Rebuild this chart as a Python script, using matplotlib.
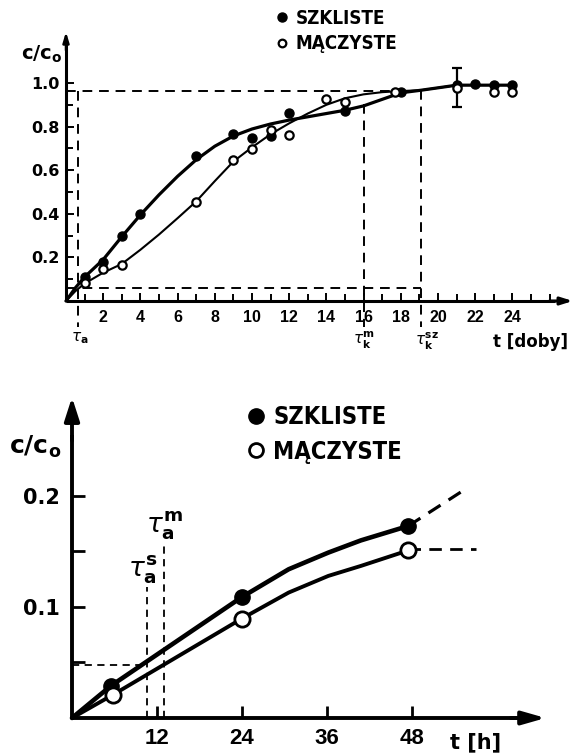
import matplotlib
matplotlib.use("Agg")
import matplotlib.pyplot as plt
from matplotlib import font_manager
from matplotlib.font_manager import FontProperties
from matplotlib.lines import Line2D

# ---------------- data ----------------
# top panel (t in days)
top_szk_t = [1, 2, 3, 4, 7, 9, 10, 11, 12, 15, 18, 21, 22, 23, 24]
top_szk_y = [0.11, 0.18, 0.30, 0.40, 0.665, 0.766, 0.75, 0.757, 0.862, 0.87, 0.959, 0.99, 0.995, 0.99, 0.99]
top_mac_t = [1, 2, 3, 7, 9, 10, 11, 12, 14, 15, 17.7, 21, 23, 24]
top_mac_y = [0.083, 0.147, 0.165, 0.454, 0.647, 0.697, 0.784, 0.76, 0.927, 0.913, 0.959, 0.975, 0.96, 0.96]
top_err_t = [21]
top_err_y = [0.99]
top_err_lo = [0.10]
top_err_hi = [0.08]

top_fit_t = [0, 0.5, 1, 2, 3, 4, 5, 6, 7, 8, 9, 10, 11, 12, 13, 14, 15, 16, 17, 18, 19.1, 21, 22, 23, 24]
top_szk_fit = [0, 0.06, 0.11, 0.19, 0.295, 0.395, 0.487, 0.572, 0.648, 0.71, 0.757, 0.789, 0.812, 0.83,
               0.845, 0.86, 0.875, 0.895, 0.925, 0.955, 0.967, 0.99, 0.99, 0.99, 0.99]
top_mac_fit_t = [0, 0.5, 1, 2, 3, 4, 5, 6, 7, 8, 9, 10, 11, 12, 13, 14, 15, 16, 17, 18, 19.1, 21]
top_mac_fit = [0, 0.045, 0.08, 0.13, 0.17, 0.235, 0.305, 0.38, 0.457, 0.55, 0.64, 0.705, 0.765, 0.815,
               0.86, 0.9, 0.93, 0.948, 0.958, 0.963, 0.967, 0.99]

top_xticks = [2, 4, 6, 8, 10, 12, 14, 16, 18, 20, 22, 24]
top_xminor = list(range(1, 27))
top_yticks = [0.2, 0.4, 0.6, 0.8, 1.0]
top_yticklabels = ["0.2", "0.4", "0.6", "0.8", "1.0"]
top_yminor = [0.1, 0.3, 0.5, 0.7, 0.9]

top_level_hi = 0.963
top_level_lo = 0.06
tau_a_top = 0.65
tau_km = 16.0
tau_ksz = 19.1
tau_km_y = 0.905
tau_ksz_y = 0.967

# bottom panel (t in hours)
bot_szk_t = [5.5, 24, 47.5]
bot_szk_y = [0.029, 0.109, 0.173]
bot_mac_t = [5.8, 24, 47.5]
bot_mac_y = [0.021, 0.0896, 0.151]
bot_szk_fit_t = [0, 5.5, 24, 30.6, 36.2, 40.8, 47.5]
bot_szk_fit_y = [0, 0.029, 0.109, 0.134, 0.149, 0.160, 0.173]
bot_mac_fit_t = [0, 5.8, 24, 30.6, 36.2, 40.8, 47.5]
bot_mac_fit_y = [0, 0.021, 0.0896, 0.113, 0.128, 0.137, 0.151]
bot_szk_ext_t = [47.5, 56.0]
bot_szk_ext_y = [0.173, 0.208]
bot_mac_ext_t = [47.5, 57.0]
bot_mac_ext_y = [0.152, 0.152]

bot_xticks = [12, 24, 36, 48]
bot_yticks = [0.05, 0.1, 0.15, 0.2]
bot_yticklabels = ["", "0.1", "", "0.2"]
bot_level = 0.048
tau_as = 10.6
tau_am = 13.0
tau_as_y = 0.118
tau_am_y = 0.155

legend_labels = ["SZKLISTE", "MĄCZYSTE"]

# ---------------- fonts ----------------
plt.rcParams["mathtext.fontset"] = "dejavusans"
names = {f.name for f in font_manager.fontManager.ttflist}
LIB = "Liberation Sans" if "Liberation Sans" in names else "DejaVu Sans"
cond = None
for f in font_manager.fontManager.ttflist:
    if f.name in ("Liberation Sans Narrow", "DejaVu Sans") and f.weight in (700, "bold") \
            and ("Narrow" in f.name or "ondensed" in f.fname) and f.style == "normal":
        cond = f.fname
        break


def legend_prop(size_cond, size_plain):
    if cond is not None:
        return FontProperties(fname=cond, size=size_cond)
    return FontProperties(family="DejaVu Sans", weight="bold", size=size_plain)


W, H = 571, 753
fig = plt.figure(figsize=(W / 100, H / 100), dpi=100)


def axes_px(x0, xs, xlim, y0, ys, ylim):
    left = x0 + xlim[0] * xs
    right = x0 + xlim[1] * xs
    top = y0 - ylim[1] * ys
    bottom = y0 - ylim[0] * ys
    ax = fig.add_axes([left / W, 1 - bottom / H, (right - left) / W, (bottom - top) / H])
    ax.set_xlim(*xlim)
    ax.set_ylim(*ylim)
    ax.patch.set_visible(False)
    return ax


def setup_axes(ax, lw):
    for s in ("top", "right"):
        ax.spines[s].set_visible(False)
    for s in ("left", "bottom"):
        ax.spines[s].set_position(("data", 0))
        ax.spines[s].set_linewidth(lw)
        ax.spines[s].set_capstyle("butt")


# ================= TOP =================
ax1 = axes_px(66, 18.6, (-0.5, 27.4), 301, 218, (-0.22, 1.25))
setup_axes(ax1, 2.2)
ax1.spines["left"].set_bounds(0, 1.18)
ax1.spines["bottom"].set_bounds(0, 26.3)
ax1.annotate("", xy=(0, 1.235), xytext=(0, 1.15),
             arrowprops=dict(arrowstyle="-|>,head_length=0.6,head_width=0.18", lw=1.8, color="k",
                             shrinkA=0, shrinkB=0))
ax1.annotate("", xy=(27.25, 0), xytext=(26.0, 0),
             arrowprops=dict(arrowstyle="-|>,head_length=0.7,head_width=0.22", lw=2.2, color="k",
                             shrinkA=0, shrinkB=0))

ax1.set_xticks(top_xticks)
ax1.set_xticks(top_xminor, minor=True)
ax1.set_yticks(top_yticks)
ax1.set_yticklabels(top_yticklabels)
ax1.set_yticks(top_yminor, minor=True)
ax1.tick_params(which="both", direction="in", width=1.4, color="k")
ax1.tick_params(which="major", length=6)
ax1.tick_params(which="minor", length=5)
ax1.tick_params(axis="y", pad=4.5)
ax1.tick_params(axis="x", pad=6.5)
for lab in ax1.get_yticklabels():
    lab.set_fontfamily("DejaVu Sans"); lab.set_fontweight("bold"); lab.set_fontsize(11.5)
for lab in ax1.get_xticklabels():
    lab.set_fontfamily(LIB); lab.set_fontweight("bold"); lab.set_fontsize(11.5)

dash_kw = dict(color="k", lw=1.4, dashes=(5, 3.5), dash_capstyle="butt")
ax1.plot([0, 18], [top_level_hi, top_level_hi], **dash_kw, clip_on=False)
ax1.plot([0, tau_ksz], [top_level_lo, top_level_lo], **dash_kw, clip_on=False)
ax1.plot([tau_a_top, tau_a_top], [top_level_hi, -0.12], **dash_kw, clip_on=False)
ax1.plot([tau_km, tau_km], [tau_km_y, -0.12], **dash_kw, clip_on=False)
ax1.plot([tau_ksz, tau_ksz], [tau_ksz_y, -0.12], **dash_kw, clip_on=False)

ax1.plot(top_fit_t, top_szk_fit, color="k", lw=2.3, solid_capstyle="round", solid_joinstyle="round")
ax1.plot(top_mac_fit_t, top_mac_fit, color="k", lw=1.5, solid_joinstyle="round")
ax1.errorbar(top_err_t, top_err_y, yerr=[top_err_lo, top_err_hi], fmt="none", ecolor="k",
             elinewidth=1.6, capsize=3.5, capthick=1.6)
ax1.plot(top_szk_t, top_szk_y, "o", color="k", ms=6.5, ls="none")
ax1.plot(top_mac_t, top_mac_y, "o", mfc="white", mec="k", mew=1.6, ms=6, ls="none")

ax1.text(-1.3, 1.133, r"$\mathbf{c/c_{o}}$", fontsize=14, ha="center", va="center")
ax1.text(tau_a_top + 0.1, -0.17, r"$\tau_{\mathbf{a}}$", fontsize=11, ha="center", va="center")
ax1.text(tau_km, -0.18, r"$\tau_{\mathbf{k}}^{\mathbf{m}}$", fontsize=11, ha="center", va="center")
ax1.text(tau_ksz + 0.3, -0.185, r"$\tau_{\mathbf{k}}^{\mathbf{sz}}$", fontsize=11, ha="center", va="center")
ax1.text(24.95, -0.19, "t [doby]", fontsize=12, fontweight="bold", family="DejaVu Sans",
         ha="center", va="center")

h_f = Line2D([], [], marker="o", color="k", ls="none", ms=6.5)
h_o = Line2D([], [], marker="o", mfc="white", mec="k", mew=1.6, ms=5.5, ls="none")
fig.legend([h_f, h_o], legend_labels, loc="upper left",
           bbox_to_anchor=(274 / W, 1 - 9 / H), frameon=False, borderpad=0, borderaxespad=0,
           handlelength=0.8, handletextpad=0.35, labelspacing=0.34,
           prop=legend_prop(13.5, 11.5))

# ================= BOTTOM =================
ax2 = axes_px(72, 7.08, (-3, 67.5), 718, 1110, (-0.033, 0.292))
setup_axes(ax2, 2.8)
ax2.spines["left"].set_bounds(0, 0.255)
ax2.spines["bottom"].set_bounds(0, 63)
ax2.annotate("", xy=(0, 0.289), xytext=(0, 0.25),
             arrowprops=dict(arrowstyle="-|>,head_length=1.4,head_width=0.45", lw=2.8, color="k",
                             shrinkA=0, shrinkB=0))
ax2.annotate("", xy=(66.9, 0), xytext=(62, 0),
             arrowprops=dict(arrowstyle="-|>,head_length=1.4,head_width=0.4", lw=2.8, color="k",
                             shrinkA=0, shrinkB=0))
ax2.set_xticks(bot_xticks)
ax2.set_yticks(bot_yticks)
ax2.set_yticklabels(bot_yticklabels)
ax2.tick_params(which="both", direction="in", width=2.0, length=9, color="k")
ax2.tick_params(axis="y", pad=8.5)
ax2.tick_params(axis="x", pad=7)
for lab in ax2.get_yticklabels():
    lab.set_fontfamily("DejaVu Sans"); lab.set_fontweight("bold"); lab.set_fontsize(15)
for lab in ax2.get_xticklabels():
    lab.set_fontfamily(LIB); lab.set_fontweight("bold"); lab.set_fontsize(16)

dash2 = dict(color="k", lw=1.3, dashes=(4, 3), dash_capstyle="butt")
ax2.plot([0, tau_as], [bot_level, bot_level], **dash2)
ax2.plot([tau_as, tau_as], [0, tau_as_y], **dash2)
ax2.plot([tau_am, tau_am], [0, tau_am_y], **dash2)

ax2.plot(bot_szk_fit_t, bot_szk_fit_y, color="k", lw=3.3, solid_joinstyle="round", solid_capstyle="round")
ax2.plot(bot_mac_fit_t, bot_mac_fit_y, color="k", lw=2.8, solid_joinstyle="round", solid_capstyle="round")
ax2.plot(bot_szk_ext_t, bot_szk_ext_y, color="k", lw=2.3, dashes=(4.5, 3))
ax2.plot(bot_mac_ext_t, bot_mac_ext_y, color="k", lw=2.0, dashes=(4.5, 3))
ax2.plot(bot_szk_t, bot_szk_y, "o", color="k", ms=11, ls="none")
ax2.plot(bot_mac_t, bot_mac_y, "o", mfc="white", mec="k", mew=2.0, ms=11, ls="none")

ax2.text(-5.2, 0.244, r"$\mathbf{c/c_{o}}$", fontsize=18, ha="center", va="center")
ax2.text(10.0, tau_as_y + 0.001, r"$\tau_{\mathbf{a}}^{\mathbf{s}}$", fontsize=19, ha="center", va="bottom")
ax2.text(13.1, tau_am_y + 0.004, r"$\tau_{\mathbf{a}}^{\mathbf{m}}$", fontsize=19, ha="center", va="bottom")
ax2.text(57.0, -0.0215, "t [h]", fontsize=15, fontweight="bold", family="DejaVu Sans",
         ha="center", va="center")

h_f2 = Line2D([], [], marker="o", color="k", ls="none", ms=11)
h_o2 = Line2D([], [], marker="o", mfc="white", mec="k", mew=2.0, ms=10, ls="none")
fig.legend([h_f2, h_o2], legend_labels, loc="upper left",
           bbox_to_anchor=(247 / W, 1 - 405 / H), frameon=False, borderpad=0, borderaxespad=0,
           handlelength=0.8, handletextpad=0.32, labelspacing=0.45,
           prop=legend_prop(17, 15))

fig.savefig("out.png", dpi=100)
